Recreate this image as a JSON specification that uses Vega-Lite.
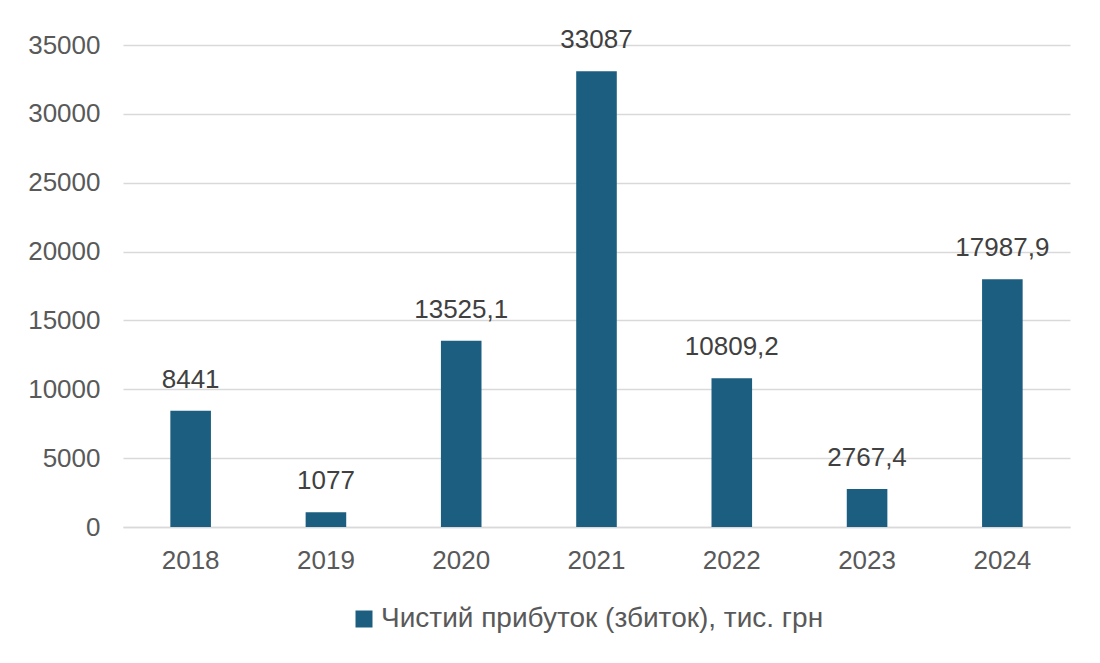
{
  "$schema": "https://vega.github.io/schema/vega-lite/v6.json",
  "autosize": {"type": "none"},
  "width": 947,
  "height": 482,
  "padding": {"left": 123, "top": 45, "right": 30, "bottom": 136},
  "background": "white",
  "config": {
    "font": "Liberation Sans",
    "view": {"stroke": null},
    "locale": {
      "number": {"decimal": ",", "thousands": "", "grouping": [3], "currency": ["", ""]}
    }
  },
  "data": {
    "values": [
      {"year": "2018", "profit": 8441, "series": "Чистий прибуток (збиток), тис. грн"},
      {"year": "2019", "profit": 1077, "series": "Чистий прибуток (збиток), тис. грн"},
      {"year": "2020", "profit": 13525.1, "series": "Чистий прибуток (збиток), тис. грн"},
      {"year": "2021", "profit": 33087, "series": "Чистий прибуток (збиток), тис. грн"},
      {"year": "2022", "profit": 10809.2, "series": "Чистий прибуток (збиток), тис. грн"},
      {"year": "2023", "profit": 2767.4, "series": "Чистий прибуток (збиток), тис. грн"},
      {"year": "2024", "profit": 17987.9, "series": "Чистий прибуток (збиток), тис. грн"}
    ]
  },
  "encoding": {
    "x": {
      "field": "year",
      "type": "nominal",
      "scale": {"paddingInner": 0.7, "paddingOuter": 0.35},
      "axis": {
        "title": null,
        "labelAngle": 0,
        "labelFontSize": 26,
        "labelColor": "#595959",
        "labelPadding": 20,
        "ticks": false,
        "domain": true,
        "domainColor": "#d9d9d9",
        "domainWidth": 1.5
      }
    },
    "y": {
      "field": "profit",
      "type": "quantitative",
      "scale": {"domain": [0, 35000]},
      "axis": {
        "title": null,
        "values": [0, 5000, 10000, 15000, 20000, 25000, 30000, 35000],
        "format": "d",
        "labelFontSize": 26,
        "labelColor": "#595959",
        "labelPadding": 23,
        "ticks": false,
        "domain": false,
        "gridColor": "#d9d9d9",
        "gridWidth": 1.5
      }
    }
  },
  "layer": [
    {
      "mark": {"type": "bar", "color": "#1b5e80"},
      "encoding": {
        "color": {
          "field": "series",
          "type": "nominal",
          "scale": {"range": ["#1b5e80"]},
          "legend": {
            "title": null,
            "orient": "none",
            "legendX": 227,
            "legendY": 560,
            "direction": "horizontal",
            "symbolType": "square",
            "symbolSize": 289,
            "symbolStrokeWidth": 0,
            "labelFontSize": 28,
            "labelOffset": 3,
            "labelColor": "#595959",
            "labelLimit": 700
          }
        }
      }
    },
    {
      "mark": {"type": "text", "baseline": "alphabetic", "dy": -23, "fontSize": 26, "color": "#404040"},
      "encoding": {
        "text": {"field": "profit", "type": "quantitative", "format": "~f"}
      }
    }
  ]
}
